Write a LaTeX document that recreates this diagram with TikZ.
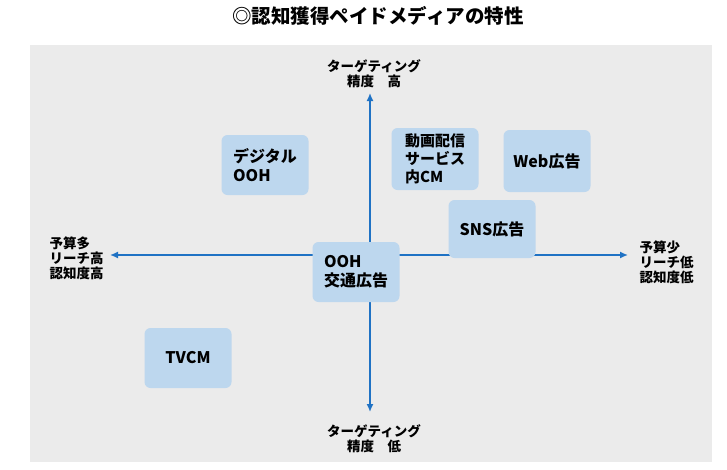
\documentclass[tikz,border=0pt]{standalone}
\usepackage{fontspec}
\setmainfont{Noto Sans CJK JP}
\usetikzlibrary{arrows.meta}
\definecolor{panel}{HTML}{EBEBEB}
\definecolor{boxfill}{HTML}{BDD7EE}
\definecolor{axis}{HTML}{1F72C4}
\tikzset{
  media/.style={fill=boxfill,rounded corners=6pt,minimum width=87pt,minimum height=60pt,
    align=left,font=\fontsize{16}{19}\selectfont\bfseries},
  axlabel/.style={align=left,font=\fontsize{13.5}{15}\selectfont\bfseries},
  axarrow/.style={axis,line width=1.5pt,-{Latex[length=8pt,width=7pt]}}
}
\begin{document}
\begin{tikzpicture}[x=1pt,y=-1pt]
\useasboundingbox (0,0) rectangle (727,469);
\fill[panel] (30,45) rectangle (712,462);
\node[font=\fontsize{19.5}{22}\selectfont\bfseries] (title) at (378,16) {◎認知獲得ペイドメディアの特性};

% axes
\coordinate (c) at (370,255);
\coordinate (l) at (110,255);
\coordinate (r) at (628,255);
\coordinate (t) at (370,93);
\coordinate (b) at (370,412);
\draw[axarrow] (c) -- (l);
\draw[axarrow] (c) -- (r);
\draw[axarrow] (c) -- (t);
\draw[axarrow] (c) -- (b);

\node[axlabel,align=center] (top) at (374,74) {ターゲティング\\精度　高};
\node[axlabel,align=center] (bottom) at (374,439) {ターゲティング\\精度　低};
\node[axlabel,anchor=west] (left) at (46,258) {予算多\\リーチ高\\認知度高};
\node[axlabel,anchor=west] (right) at (636,262) {予算少\\リーチ低\\認知度低};

% media
\node[media] (dooh) at (265,165) {デジタル\\OOH};
\node[media,minimum height=62pt,font=\fontsize{15}{18}\selectfont\bfseries] (video) at (435,159) {動画配信\\サービス\\内CM};
\node[media,minimum height=62pt] (web) at (547,161) {Web広告};
\node[media,minimum height=58pt] (sns) at (492,229) {SNS広告};
\node[media] (ooh) at (356,272) {OOH\\交通広告};
\node[media] (tvcm) at (188,358) {TVCM};
\end{tikzpicture}
\end{document}
